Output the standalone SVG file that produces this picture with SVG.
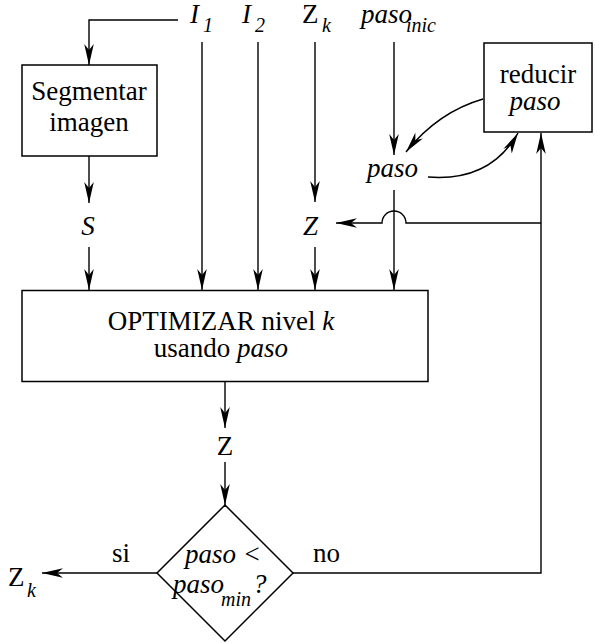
<svg xmlns="http://www.w3.org/2000/svg" width="595" height="643" viewBox="0 0 595 643">
<defs>
<marker id="ah" viewBox="-21 -5 21 10" refX="0" refY="0" markerWidth="21" markerHeight="10" markerUnits="userSpaceOnUse" orient="auto">
<path d="M0,0 L-21,-4.8 L-15,0 L-21,4.8 Z" fill="#000"/>
</marker>
</defs>
<g id="connectors" fill="none" stroke="#000" stroke-width="1.4">
<path d="M178,20 H89 V65" marker-end="url(#ah)"/>
<path d="M89,156 V203" marker-end="url(#ah)"/>
<path d="M89,247 V290" marker-end="url(#ah)"/>
<path d="M202,42 V290" marker-end="url(#ah)"/>
<path d="M258,42 V290" marker-end="url(#ah)"/>
<path d="M315,42 V202" marker-end="url(#ah)"/>
<path d="M315,247 V290" marker-end="url(#ah)"/>
<path d="M394,42 V155" marker-end="url(#ah)"/>
<path d="M394,190 V290" marker-end="url(#ah)"/>
<path d="M292,573 H541 V133" marker-end="url(#ah)"/>
<path d="M541,223 H406 A12,12 0 0 0 382,223 H336" marker-end="url(#ah)"/>
<path d="M483,99 Q438,112 406,152" marker-end="url(#ah)"/>
<path d="M428,177 Q490,182 518,133" marker-end="url(#ah)"/>
<path d="M225,381 V428" marker-end="url(#ah)"/>
<path d="M225,462 V505" marker-end="url(#ah)"/>
<path d="M157,573 H42" marker-end="url(#ah)"/>
</g>
<g id="segmentar">
<rect x="22" y="65" width="135" height="91" fill="#fff" stroke="#000" stroke-width="1.5"/>
<text font-family="Liberation Serif" font-size="27" text-anchor="middle" x="89" y="100">Segmentar</text>
<text font-family="Liberation Serif" font-size="27" text-anchor="middle" x="89" y="131">imagen</text>
</g>
<g id="reducir">
<rect x="484" y="43" width="108" height="89" fill="#fff" stroke="#000" stroke-width="1.5"/>
<text font-family="Liberation Serif" font-size="27" text-anchor="middle" x="538" y="83">reducir</text>
<text font-family="Liberation Serif" font-size="27" font-style="italic" text-anchor="middle" x="535" y="110">paso</text>
</g>
<g id="optimizar">
<rect x="22" y="290.5" width="406" height="91" fill="#fff" stroke="#000" stroke-width="1.5"/>
<text font-family="Liberation Serif" font-size="27" text-anchor="middle" x="221" y="330">OPTIMIZAR nivel <tspan font-style="italic">k</tspan></text>
<text font-family="Liberation Serif" font-size="27" text-anchor="middle" x="221" y="357">usando <tspan font-style="italic">paso</tspan></text>
</g>
<g id="decision">
<polygon points="225,505 293,573 225,641 157,573" fill="#fff" stroke="#000" stroke-width="1.5"/>
<text font-family="Liberation Serif" font-size="27" font-style="italic" x="185" y="563">paso &lt;</text>
<text font-family="Liberation Serif" font-size="27" font-style="italic" x="173" y="593">paso<tspan font-size="20" x="221" y="606">min</tspan><tspan x="253" y="593">?</tspan></text>
</g>
<g id="labels">
<text font-family="Liberation Serif" font-size="27" font-style="italic" x="190" y="23">I<tspan font-size="20" x="203" y="32">1</tspan></text>
<text font-family="Liberation Serif" font-size="27" font-style="italic" x="242" y="23">I<tspan font-size="20" x="255" y="32">2</tspan></text>
<text font-family="Liberation Serif" font-size="27" x="302" y="23">Z<tspan font-size="20" font-style="italic" x="322" y="32">k</tspan></text>
<text font-family="Liberation Serif" font-size="27" font-style="italic" x="361" y="23">paso<tspan font-size="20" x="406" y="32">inic</tspan></text>
<text font-family="Liberation Serif" font-size="27" font-style="italic" x="367" y="177">paso</text>
<text font-family="Liberation Serif" font-size="27" font-style="italic" text-anchor="middle" x="88" y="235">S</text>
<text font-family="Liberation Serif" font-size="27" font-style="italic" x="303" y="235">Z</text>
<text font-family="Liberation Serif" font-size="27" text-anchor="middle" x="225" y="455">Z</text>
<text font-family="Liberation Serif" font-size="27" x="112" y="562">si</text>
<text font-family="Liberation Serif" font-size="27" x="313" y="562">no</text>
<text font-family="Liberation Serif" font-size="27" x="8" y="586">Z<tspan font-size="20" font-style="italic" x="27" y="597">k</tspan></text>
</g>
</svg>
